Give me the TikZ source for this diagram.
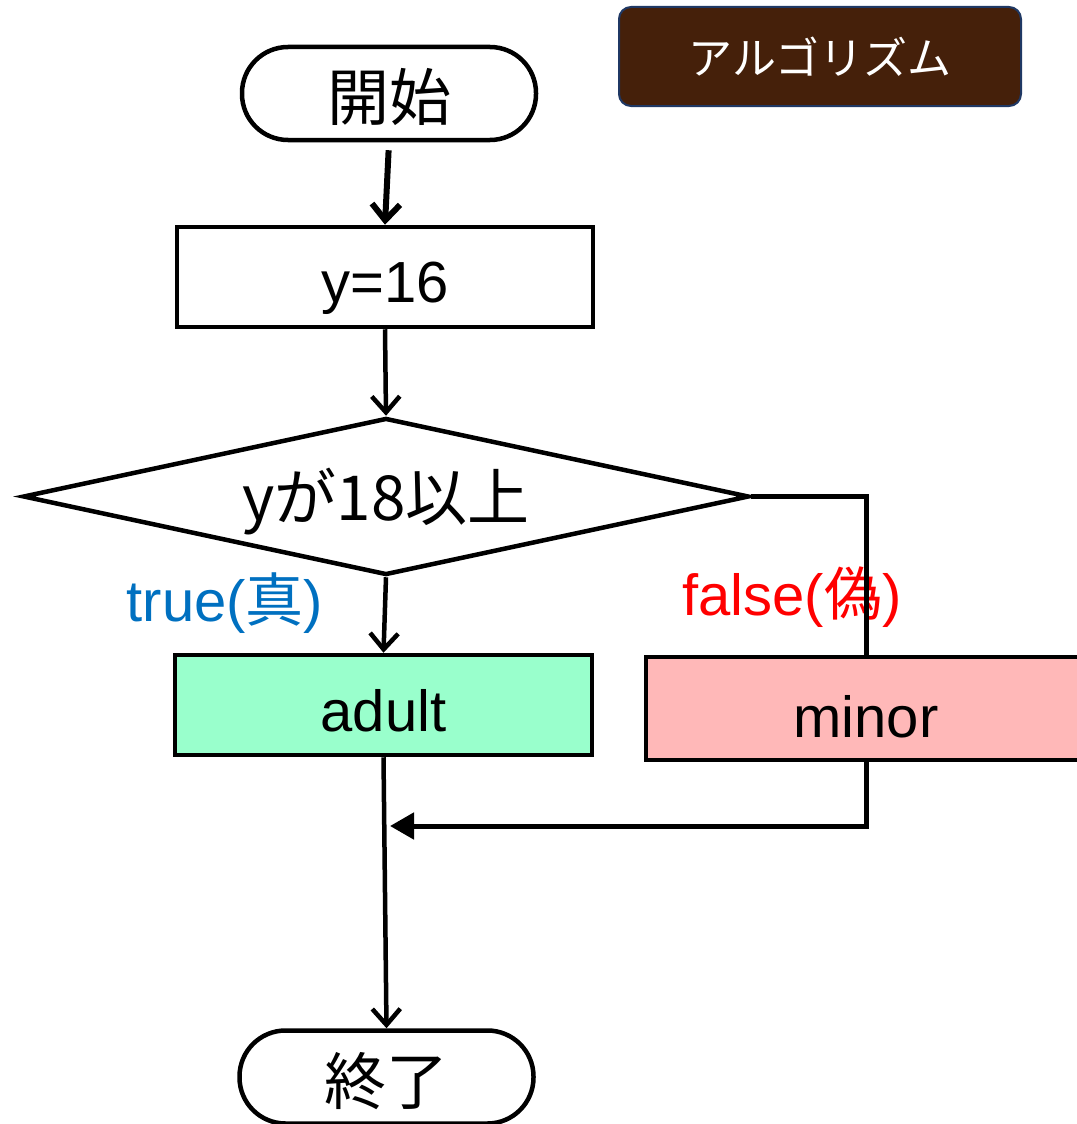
\documentclass[tikz,border=0pt]{standalone}
\usepackage{fontspec}
\setmainfont{Liberation Sans}
\newfontfamily\jp{Noto Sans CJK JP}
\usetikzlibrary{arrows.meta,shapes.geometric}
\definecolor{adultfill}{HTML}{99FFCC}
\definecolor{minorfill}{HTML}{FFB8B8}
\definecolor{titlefill}{HTML}{45200A}
\definecolor{titleedge}{HTML}{1F3864}
\definecolor{truecol}{HTML}{0070C0}
\definecolor{falsecol}{HTML}{FF0000}
\begin{document}
\begin{tikzpicture}[x=1pt,y=-1pt,
  big/.style={font=\fontsize{58}{64}\selectfont,inner sep=0pt},
  bigjp/.style={font=\fontsize{62}{68}\selectfont\jp,inner sep=0pt},
  term/.style={draw=black,line width=4.5pt,fill=white,rounded corners=46pt,minimum width=294pt,minimum height=93pt,inner sep=0pt},
  proc/.style={draw=black,line width=4.5pt,fill=white,minimum width=416pt,minimum height=100pt,inner sep=0pt},
  decshape/.style={draw=black,line width=4.5pt,diamond,minimum width=726pt,minimum height=157pt,inner sep=0pt},
  titlebox/.style={draw=titleedge,line width=2pt,fill=titlefill,rounded corners=12pt,minimum width=402pt,minimum height=99pt,text=white,font=\fontsize{44}{50}\selectfont\jp},
  flow/.style={line width=4.5pt,-{Straight Barb[length=16pt,width=28pt]}},
  plain/.style={line width=5pt},
  lab/.style={font=\fontsize{58}{64}\selectfont,inner sep=0pt}
]
\useasboundingbox (0,0) rectangle (1076,1124);
\node[titlebox] (title) at (820,56.5) {アルゴリズム};
\node[term,label={[bigjp,yshift=-4pt]center:開始}] (start) at (389,93.5) {};
\node[proc,label={[big,yshift=-11pt]center:y=16}] (init) at (385,277) {};
\node[decshape,label={[bigjp,yshift=-5pt]center:yが18以上}] (dec) at (386,496.5) {};
\node[proc,fill=adultfill,minimum width=417pt,label={[big,yshift=-6pt]center:adult}] (adult) at (383.5,705) {};
\node[proc,fill=minorfill,minimum width=440pt,minimum height=103pt,label={[big,yshift=-8pt]center:minor}] (minor) at (866,708.5) {};
\node[term,label={[bigjp,yshift=-4pt]center:終了}] (end) at (386.5,1077) {};
\node[lab,text=truecol] (truelab) at (225,603) {true(\jp 真\rmfamily)};
\node[lab,text=falsecol] (falselab) at (792,597) {false(\jp 偽\rmfamily)};
\coordinate (merge) at (390,826);
\draw[flow,line width=6pt,shorten <=8pt] (start.south) -- (init.north);
\draw[flow] (init.south) -- (dec.north);
\draw[flow] (dec.south) -- (adult.north);
\draw[plain] (dec.east) -| (minor.north);
\draw[plain,-{Triangle[length=24pt,width=26pt]}] (minor.south) |- (merge);
\draw[flow] (adult.south) -- (end.north);
\end{tikzpicture}
\end{document}
